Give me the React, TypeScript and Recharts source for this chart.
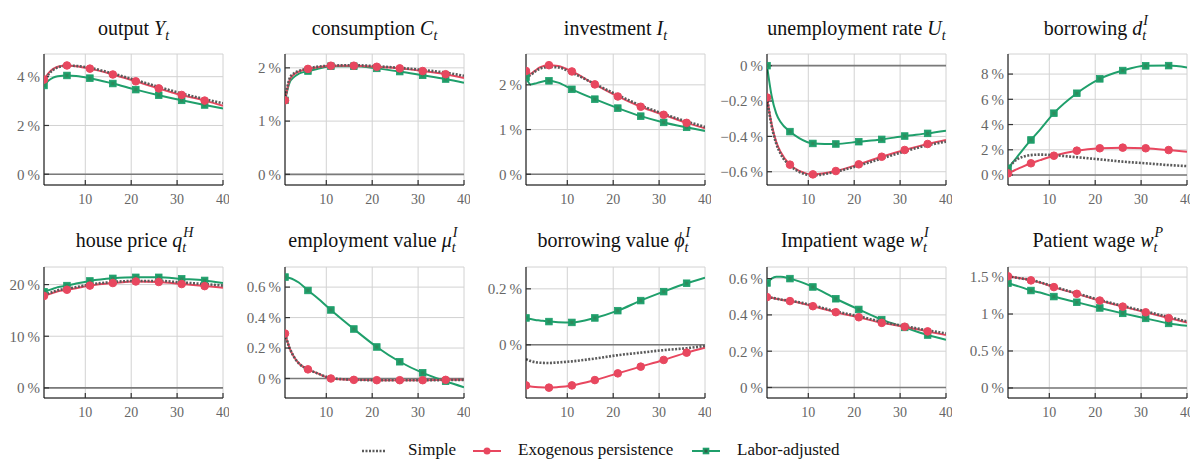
import React from 'react';
import { LineChart, Line, XAxis, YAxis, CartesianGrid, ReferenceLine } from 'recharts';

// ---------- data ----------
const periods = [1, 2, 3, 4, 6, 8, 11, 16, 21, 26, 31, 36, 40];
const markerPeriods = [1, 6, 11, 16, 21, 26, 31, 36];
const xTicks = [10, 20, 30, 40];

const outputSimple = [3.82, 4.1, 4.28, 4.38, 4.45, 4.44, 4.36, 4.13, 3.86, 3.58, 3.31, 3.08, 2.91];
const outputExog = [3.88, 4.15, 4.32, 4.41, 4.46, 4.43, 4.33, 4.09, 3.81, 3.52, 3.25, 3.02, 2.81];
const outputLabor = [3.64, 3.84, 3.96, 4.02, 4.05, 4.03, 3.94, 3.72, 3.47, 3.24, 3.03, 2.84, 2.7];
const outputTicks = [0, 2, 4];

const consSimple = [1.39, 1.8, 1.9, 1.94, 1.99, 2.02, 2.04, 2.05, 2.03, 2.0, 1.96, 1.91, 1.85];
const consExog = [1.39, 1.77, 1.88, 1.93, 1.98, 2.01, 2.04, 2.04, 2.02, 1.99, 1.94, 1.88, 1.81];
const consLabor = [1.39, 1.72, 1.83, 1.89, 1.94, 1.98, 2.03, 2.03, 1.99, 1.93, 1.86, 1.79, 1.72];
const consTicks = [0, 1, 2];

const invSimple = [2.15, 2.22, 2.3, 2.36, 2.4, 2.39, 2.27, 2.02, 1.77, 1.54, 1.35, 1.18, 1.06];
const invExog = [2.31, 2.25, 2.32, 2.39, 2.44, 2.42, 2.3, 2.01, 1.74, 1.51, 1.33, 1.15, 1.03];
const invLabor = [2.17, 2.01, 2.03, 2.06, 2.09, 2.05, 1.9, 1.68, 1.48, 1.3, 1.16, 1.05, 0.97];
const invTicks = [0, 1, 2];

const unempSimple = [-0.18, -0.34, -0.44, -0.5, -0.565, -0.6, -0.62, -0.6, -0.565, -0.525, -0.485, -0.45, -0.43];
const unempExog = [-0.18, -0.33, -0.43, -0.49, -0.56, -0.595, -0.615, -0.596, -0.558, -0.515, -0.477, -0.443, -0.42];
const unempLabor = [0, -0.17, -0.27, -0.32, -0.373, -0.41, -0.44, -0.443, -0.43, -0.417, -0.398, -0.383, -0.368];
const unempTicks = [-0.6, -0.4, -0.2, 0];

const borrowSimple = [0.45, 0.95, 1.25, 1.42, 1.58, 1.62, 1.57, 1.41, 1.24, 1.06, 0.93, 0.79, 0.71];
const borrowExog = [0.13, 0.3, 0.47, 0.63, 0.93, 1.18, 1.53, 1.93, 2.12, 2.17, 2.12, 1.98, 1.85];
const borrowLabor = [0.53, 0.98, 1.44, 1.9, 2.78, 3.6, 4.9, 6.48, 7.62, 8.28, 8.65, 8.67, 8.52];
const borrowTicks = [0, 2, 4, 6, 8];

const houseSimple = [18.0, 18.3, 18.6, 18.9, 19.2, 19.5, 20.0, 20.5, 20.7, 20.7, 20.4, 20.1, 19.8];
const houseExog = [17.8, 18.1, 18.4, 18.7, 19.0, 19.3, 19.8, 20.3, 20.6, 20.5, 20.1, 19.7, 19.4];
const houseLabor = [18.6, 18.9, 19.2, 19.5, 19.8, 20.2, 20.7, 21.2, 21.4, 21.4, 21.1, 20.8, 20.3];
const houseTicks = [0, 10, 20];

const emplSimple = [0.295, 0.2, 0.14, 0.1, 0.06, 0.035, 0.003, -0.008, -0.011, -0.011, -0.011, -0.01, -0.009];
const emplExog = [0.295, 0.2, 0.14, 0.1, 0.06, 0.035, 0.0, -0.009, -0.011, -0.011, -0.011, -0.009, -0.009];
const emplLabor = [0.666, 0.66, 0.648, 0.63, 0.578, 0.53, 0.45, 0.325, 0.207, 0.11, 0.037, -0.018, -0.057];
const emplTicks = [0, 0.2, 0.4, 0.6];

const bvalSimple = [-0.051, -0.058, -0.062, -0.064, -0.065, -0.063, -0.059, -0.049, -0.037, -0.028, -0.019, -0.012, -0.004];
const bvalExog = [-0.145, -0.149, -0.151, -0.152, -0.153, -0.151, -0.145, -0.126, -0.102, -0.078, -0.054, -0.028, -0.01];
const bvalLabor = [0.096, 0.092, 0.089, 0.087, 0.083, 0.081, 0.08, 0.096, 0.122, 0.158, 0.19, 0.22, 0.24];
const bvalTicks = [0, 0.2];

const iwageSimple = [0.5, 0.495, 0.49, 0.485, 0.478, 0.47, 0.452, 0.42, 0.392, 0.362, 0.338, 0.315, 0.298];
const iwageExog = [0.498, 0.494, 0.489, 0.484, 0.476, 0.467, 0.448, 0.415, 0.387, 0.356, 0.335, 0.309, 0.289];
const iwageLabor = [0.576, 0.6, 0.61, 0.61, 0.6, 0.585, 0.554, 0.489, 0.43, 0.374, 0.331, 0.289, 0.263];
const iwageTicks = [0, 0.2, 0.4, 0.6];

const pwageSimple = [1.51, 1.5, 1.49, 1.48, 1.46, 1.43, 1.37, 1.28, 1.19, 1.11, 1.035, 0.96, 0.9];
const pwageExog = [1.51, 1.5, 1.49, 1.48, 1.455, 1.425, 1.364, 1.273, 1.182, 1.1, 1.023, 0.945, 0.886];
const pwageLabor = [1.418, 1.4, 1.38, 1.36, 1.318, 1.29, 1.236, 1.159, 1.082, 1.009, 0.941, 0.873, 0.841];
const pwageTicks = [0, 0.5, 1, 1.5];

// ---------- styling ----------
const FONT = '"Liberation Serif", "Times New Roman", serif';
const RED = '#e8475f';
const GREEN = '#1f9f6b';
const DOT_GREY = '#5a5a5a';
const PLOT_W = 179;
const PLOT_H = 131;
const colLefts = [44, 285, 526, 767, 1008];
const rowTops = [54, 267];
const titleBaselines = [35, 247];

const fmt = (v: number) => (v < 0 ? '\u2212' : '') + String(Math.abs(v)) + '\u2009%';

function Mi({ b, sub, sup }: { b: string; sub: string; sup?: string }) {
  if (!sup) {
    return (
      <span>
        <i>{b}</i>
        <i style={{ fontSize: 14, position: 'relative', top: 5 }}>{sub}</i>
      </span>
    );
  }
  return (
    <span>
      <i>{b}</i>
      <span style={{ display: 'inline-block', position: 'relative', width: 9, height: 0 }}>
        <i style={{ position: 'absolute', left: 1, top: -21, fontSize: 14, lineHeight: 1 }}>{sup}</i>
        <i style={{ position: 'absolute', left: 0, top: -6, fontSize: 14, lineHeight: 1 }}>{sub}</i>
      </span>
    </span>
  );
}

const panels = [
  { title: <>output <Mi b="Y" sub="t" /></>, simple: outputSimple, exog: outputExog, labor: outputLabor, ticks: outputTicks, domain: [-0.44, 4.93] },
  { title: <>consumption <Mi b="C" sub="t" /></>, simple: consSimple, exog: consExog, labor: consLabor, ticks: consTicks, domain: [-0.2, 2.26] },
  { title: <>investment <Mi b="I" sub="t" /></>, simple: invSimple, exog: invExog, labor: invLabor, ticks: invTicks, domain: [-0.24, 2.69] },
  { title: <>unemployment rate <Mi b="U" sub="t" /></>, simple: unempSimple, exog: unempExog, labor: unempLabor, ticks: unempTicks, domain: [-0.675, 0.066] },
  { title: <>borrowing <Mi b="d" sub="t" sup="I" /></>, simple: borrowSimple, exog: borrowExog, labor: borrowLabor, ticks: borrowTicks, domain: [-0.79, 9.59] },
  { title: <>house price <Mi b="q" sub="t" sup="H" /></>, simple: houseSimple, exog: houseExog, labor: houseLabor, ticks: houseTicks, domain: [-1.95, 23.4] },
  { title: <>employment value <Mi b={'\u03bc'} sub="t" sup="I" /></>, simple: emplSimple, exog: emplExog, labor: emplLabor, ticks: emplTicks, domain: [-0.128, 0.732] },
  { title: <>borrowing value <Mi b={'\u03d5'} sub="t" sup="I" /></>, simple: bvalSimple, exog: bvalExog, labor: bvalLabor, ticks: bvalTicks, domain: [-0.19, 0.278] },
  { title: <>Impatient wage <Mi b="w" sub="t" sup="I" /></>, simple: iwageSimple, exog: iwageExog, labor: iwageLabor, ticks: iwageTicks, domain: [-0.058, 0.664] },
  { title: <>Patient wage <Mi b="w" sub="t" sup="P" /></>, simple: pwageSimple, exog: pwageExog, labor: pwageLabor, ticks: pwageTicks, domain: [-0.136, 1.636] },
];

const circleDot = (props: any) => {
  const { cx, cy, payload, index } = props;
  if (!markerPeriods.includes(payload.t)) return <g key={'c' + index} />;
  return <circle key={'c' + index} cx={cx} cy={cy} r={3.8} fill={RED} stroke={RED} strokeWidth={1} />;
};

const squareDot = (props: any) => {
  const { cx, cy, payload, index } = props;
  if (!markerPeriods.includes(payload.t)) return <g key={'s' + index} />;
  return (
    <g key={'s' + index}>
      <rect x={cx - 3.3} y={cy - 3.3} width={6.6} height={6.6} fill={GREEN} stroke={GREEN} strokeWidth={0.8} />
      <rect x={cx - 1.5} y={cy - 1.5} width={3} height={3} fill="#2e8a5c" />
    </g>
  );
};

function Panel({ p, col, row }: { p: any; col: number; row: number }) {
  const AXW = 50;
  const MT = 6;
  const MR = 6;
  const XH = 30;
  const data = periods.map((t, i) => ({ t, simple: p.simple[i], exog: p.exog[i], labor: p.labor[i] }));
  const tickFont = { fill: '#666', fontFamily: FONT };
  return (
    <>
      <div
        style={{
          position: 'absolute',
          left: colLefts[col] - 20,
          width: PLOT_W + 40,
          top: titleBaselines[row] - 16.75,
          textAlign: 'center',
          fontFamily: FONT,
          fontSize: 20,
          lineHeight: '20px',
          color: '#111',
          whiteSpace: 'nowrap',
        }}
      >
        {p.title}
      </div>
      <div style={{ position: 'absolute', left: colLefts[col] - AXW, top: rowTops[row] - MT }}>
        <LineChart
          width={AXW + PLOT_W + MR}
          height={MT + PLOT_H + XH}
          data={data}
          margin={{ top: MT, right: MR, bottom: 0, left: 0 }}
        >
          <CartesianGrid stroke="#d2d2d2" strokeWidth={1} />
          <ReferenceLine y={0} stroke="#7a7a7a" strokeWidth={1.6} />
          <XAxis
            dataKey="t"
            type="number"
            domain={[1, 40]}
            ticks={xTicks}
            interval={0}
            allowDataOverflow
            height={XH}
            tickSize={-5}
            tickMargin={14}
            axisLine={{ stroke: '#000', strokeWidth: 1 }}
            tickLine={{ stroke: '#333', strokeWidth: 1.2 }}
            tick={{ ...tickFont, fontSize: 14 }}
          />
          <XAxis
            xAxisId="top"
            orientation="top"
            dataKey="t"
            type="number"
            domain={[1, 40]}
            ticks={xTicks}
            interval={0}
            allowDataOverflow
            height={0}
            tickSize={-5}
            tick={false}
            axisLine={{ stroke: '#000', strokeWidth: 1 }}
            tickLine={{ stroke: '#333', strokeWidth: 1.2 }}
          />
          <YAxis
            type="number"
            domain={p.domain}
            ticks={p.ticks}
            interval={0}
            allowDataOverflow
            width={AXW}
            tickSize={-5}
            tickMargin={9}
            tickFormatter={fmt}
            axisLine={{ stroke: '#000', strokeWidth: 1 }}
            tickLine={{ stroke: '#333', strokeWidth: 1.2 }}
            tick={{ ...tickFont, fontSize: 15 }}
          />
          <YAxis
            yAxisId="right"
            orientation="right"
            type="number"
            domain={p.domain}
            ticks={p.ticks}
            interval={0}
            allowDataOverflow
            width={0}
            tickSize={-5}
            tick={false}
            axisLine={{ stroke: '#000', strokeWidth: 1 }}
            tickLine={{ stroke: '#333', strokeWidth: 1.2 }}
          />
          <Line
            type="monotone"
            dataKey="labor"
            stroke={GREEN}
            strokeWidth={2}
            dot={squareDot}
            activeDot={false}
            isAnimationActive={false}
          />
          <Line
            type="monotone"
            dataKey="exog"
            stroke={RED}
            strokeWidth={2}
            dot={circleDot}
            activeDot={false}
            isAnimationActive={false}
          />
          <Line
            type="monotone"
            dataKey="simple"
            stroke={DOT_GREY}
            strokeWidth={2.6}
            strokeDasharray="2 1.5"
            dot={false}
            activeDot={false}
            isAnimationActive={false}
          />
        </LineChart>
      </div>
    </>
  );
}

function Legend() {
  const text: React.CSSProperties = {
    position: 'absolute',
    top: 440,
    fontFamily: FONT,
    fontSize: 17,
    lineHeight: '20px',
    color: '#111',
    whiteSpace: 'nowrap',
  };
  return (
    <>
      <svg style={{ position: 'absolute', left: 360, top: 444 }} width={28} height={14}>
        <line x1={2} y1={7} x2={26} y2={7} stroke={DOT_GREY} strokeWidth={2.6} strokeDasharray="2 1.5" />
      </svg>
      <div style={{ ...text, left: 408 }}>Simple</div>
      <svg style={{ position: 'absolute', left: 472, top: 444 }} width={30} height={14}>
        <line x1={1} y1={7} x2={29} y2={7} stroke={RED} strokeWidth={2} />
        <circle cx={15} cy={7} r={3.5} fill={RED} />
      </svg>
      <div style={{ ...text, left: 518 }}>Exogenous persistence</div>
      <svg style={{ position: 'absolute', left: 691, top: 444 }} width={30} height={14}>
        <line x1={1} y1={7} x2={29} y2={7} stroke={GREEN} strokeWidth={2} />
        <rect x={11.7} y={3.7} width={6.6} height={6.6} fill={GREEN} />
        <rect x={13.5} y={5.5} width={3} height={3} fill="#2e5e45" />
      </svg>
      <div style={{ ...text, left: 737 }}>Labor-adjusted</div>
    </>
  );
}

export default function App() {
  return (
    <div
      style={{
        position: 'absolute',
        left: 0,
        top: 0,
        width: 1190,
        height: 461,
        overflow: 'hidden',
        background: '#fff',
      }}
    >
      {panels.map((p, i) => (
        <Panel key={i} p={p} col={i % 5} row={Math.floor(i / 5)} />
      ))}
      <Legend />
    </div>
  );
}
